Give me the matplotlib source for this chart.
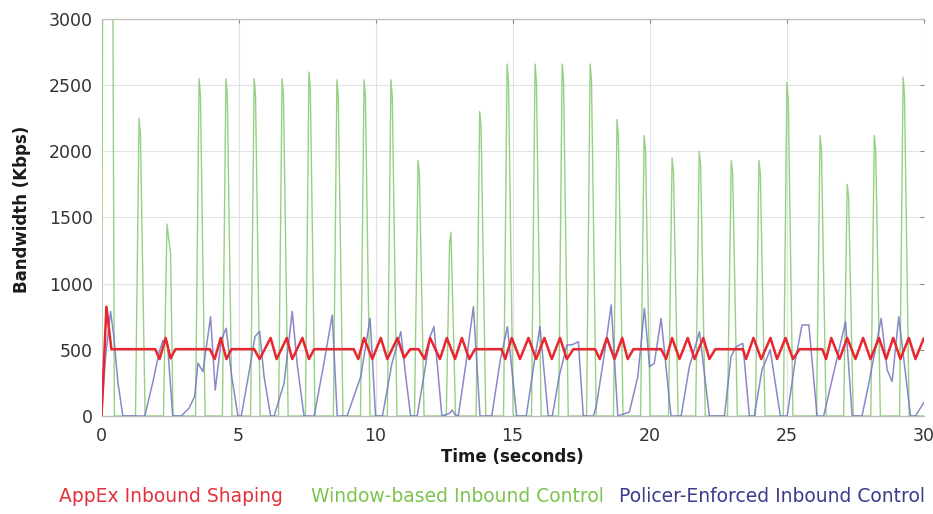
import matplotlib
matplotlib.use("Agg")
import matplotlib.pyplot as plt

# ======================
# Data (time in s, bandwidth in Kbps)
# ======================
appex_t = [0, 0.18, 0.36, 1.96, 2.12, 2.34, 2.52, 2.7, 3.95, 4.13, 4.35, 4.56, 4.74,
           5.57, 5.77, 6.17, 6.39, 6.76, 6.96, 7.33, 7.57, 7.76, 9.2, 9.37, 9.58,
           9.88, 10.19, 10.43, 10.8, 11.04, 11.27, 11.57, 11.79, 11.99, 12.35, 12.6,
           12.9, 13.15, 13.42, 13.63, 14.6, 14.73, 14.97, 15.27, 15.58, 15.86, 16.16,
           16.43, 16.73, 16.98, 17.22, 18.01, 18.18, 18.44, 18.72, 19.0, 19.2, 19.41,
           20.42, 20.6, 20.82, 21.09, 21.39, 21.64, 21.96, 22.18, 22.4, 23.4, 23.52,
           23.79, 24.07, 24.41, 24.65, 24.96, 25.23, 25.47, 26.3, 26.44, 26.63, 26.93,
           27.21, 27.51, 27.79, 28.06, 28.37, 28.63, 28.89, 29.15, 29.46, 29.7, 30.0]
appex_kbps = [0, 826, 505, 505, 430, 590, 435, 505, 505, 430, 590, 430, 505,
              505, 430, 590, 430, 590, 430, 590, 430, 505, 505, 430, 590,
              430, 590, 430, 590, 440, 505, 505, 430, 590, 430, 590,
              430, 590, 430, 505, 505, 430, 590, 430, 590, 430, 590,
              430, 590, 430, 505, 505, 430, 590, 430, 590, 430, 505,
              505, 430, 590, 430, 590, 430, 590, 430, 505, 505, 430,
              590, 430, 590, 430, 590, 430, 505, 505, 430, 590, 430,
              590, 430, 590, 430, 590, 430, 590, 430, 590, 430, 585]

window_t = [0, 0.05, 0.40, 0.47,
            1.24, 1.37, 1.42, 1.59,
            2.26, 2.39, 2.52, 2.61,
            3.43, 3.56, 3.61, 3.78,
            4.41, 4.54, 4.59, 4.76,
            5.44, 5.57, 5.62, 5.79,
            6.46, 6.59, 6.64, 6.81,
            7.44, 7.57, 7.62, 7.79,
            8.46, 8.59, 8.64, 8.81,
            9.45, 9.58, 9.63, 9.80,
            10.43, 10.56, 10.61, 10.78,
            11.42, 11.55, 11.60, 11.77,
            12.58, 12.70, 12.75, 12.92,
            13.67, 13.80, 13.85, 14.02,
            14.67, 14.80, 14.85, 15.02,
            15.69, 15.82, 15.87, 16.04,
            16.68, 16.81, 16.86, 17.03,
            17.70, 17.83, 17.88, 18.05,
            18.68, 18.81, 18.86, 19.03,
            19.67, 19.80, 19.85, 20.02,
            20.69, 20.82, 20.87, 21.04,
            21.68, 21.81, 21.86, 22.03,
            22.84, 22.98, 23.03, 23.20,
            23.86, 23.99, 24.04, 24.21,
            24.88, 25.01, 25.06, 25.23,
            26.09, 26.22, 26.27, 26.44,
            27.08, 27.21, 27.26, 27.43,
            28.07, 28.20, 28.25, 28.42,
            29.12, 29.25, 29.30, 29.47, 30.0]
window_kbps = [0, 4000, 4000, 0,
               0, 2250, 2130, 0,
               0, 1450, 1220, 0,
               0, 2550, 2420, 0,
               0, 2550, 2420, 0,
               0, 2550, 2420, 0,
               0, 2550, 2420, 0,
               0, 2600, 2470, 0,
               0, 2540, 2410, 0,
               0, 2540, 2410, 0,
               0, 2540, 2410, 0,
               0, 1930, 1830, 0,
               0, 1300, 1390, 0,
               0, 2300, 2180, 0,
               0, 2660, 2530, 0,
               0, 2660, 2530, 0,
               0, 2660, 2530, 0,
               0, 2660, 2530, 0,
               0, 2240, 2130, 0,
               0, 2120, 2010, 0,
               0, 1950, 1850, 0,
               0, 2000, 1900, 0,
               0, 1930, 1830, 0,
               0, 1930, 1830, 0,
               0, 2520, 2390, 0,
               0, 2120, 2010, 0,
               0, 1750, 1660, 0,
               0, 2120, 2010, 0,
               0, 2560, 2430, 0, 0]

policer_t = [0.0, 0.15, 0.33, 0.45, 0.6, 0.78, 1.58, 1.9, 2.1, 2.24, 2.4, 2.6, 2.91,
             3.2, 3.4, 3.52, 3.7, 3.98, 4.15, 4.37, 4.55, 4.75, 4.98, 5.1, 5.4, 5.6,
             5.77, 5.93, 6.17, 6.3, 6.66, 6.96, 7.15, 7.39, 7.76, 8.1, 8.42, 8.6, 8.96,
             9.46, 9.8, 10.0, 10.25, 10.6, 10.92, 11.1, 11.28, 11.52, 11.8, 11.99,
             12.13, 12.42, 12.7, 12.8, 12.9, 13.02, 13.3, 13.57, 13.81, 14.24, 14.55,
             14.81, 15.15, 15.5, 15.8, 16.0, 16.3, 16.45, 16.7, 16.98, 17.2, 17.4,
             17.58, 17.95, 18.05, 18.3, 18.6, 18.84, 19.26, 19.57, 19.81, 20.0, 20.17,
             20.42, 20.78, 21.15, 21.45, 21.82, 22.18, 22.73, 22.97, 23.16, 23.4,
             23.64, 23.82, 24.1, 24.4, 24.77, 25.02, 25.3, 25.56, 25.81, 26.11, 26.35,
             26.8, 27.15, 27.39, 27.75, 28.0, 28.45, 28.67, 28.85, 29.09, 29.52, 29.7,
             30.0]
policer_kbps = [0, 450, 790, 600, 250, 0, 0, 280, 480, 570, 560, 0, 0,
                60, 150, 400, 335, 750, 196, 575, 663, 300, 0, 0, 350, 600,
                640, 300, 0, 0, 247, 790, 373, 0, 0, 380, 763, 0, 0,
                297, 738, 0, 0, 400, 637, 300, 0, 0, 350, 600,
                675, 0, 20, 45, 10, 0, 400, 826, 0, 0, 420,
                675, 0, 0, 420, 675, 0, 0, 300, 535, 540, 562,
                0, 0, 70, 400, 839, 0, 30, 297, 813, 373, 398,
                738, 0, 0, 373, 637, 0, 0, 448, 524, 549,
                0, 0, 348, 500, 0, 0, 400, 688, 688, 0, 0,
                400, 713, 0, 0, 247, 738, 348, 260, 750, 0, 0,
                100]

x_ticks = [0, 5, 10, 15, 20, 25, 30]
y_ticks = [0, 500, 1000, 1500, 2000, 2500, 3000]

legend_labels = ["AppEx Inbound Shaping", "Window-based Inbound Control",
                 "Policer-Enforced Inbound Control"]
legend_colors = ["#e2323c", "#7cc44e", "#3b3b8e"]

# ======================
# Plot
# ======================
plt.rcParams.update({"font.family": "DejaVu Sans"})

fig = plt.figure(figsize=(9.33, 5.14), dpi=100)
ax = fig.add_axes([0.1088, 0.1907, 0.8812, 0.7723])

ax.plot(window_t, window_kbps, color="#96d183", linewidth=1.0, zorder=2)
ax.plot(policer_t, policer_kbps, color="#7474c0", linewidth=1.1, alpha=0.85, zorder=3)
ax.plot(appex_t, appex_kbps, color="#e8262e", linewidth=1.8, zorder=4)

ax.set_xlim(0, 30)
ax.set_ylim(0, 3000)
ax.set_xticks(x_ticks)
ax.set_yticks(y_ticks)
ax.grid(True, color="#e2e2e2", linewidth=0.8)
ax.set_axisbelow(True)

for side in ["left", "right"]:
    ax.spines[side].set_visible(False)
for side in ["top", "bottom"]:
    ax.spines[side].set_color("#bdbdbd")
    ax.spines[side].set_linewidth(0.9)

ax.tick_params(axis="both", labelsize=12.5, labelcolor="#333333", length=0)
ax.tick_params(axis="x", pad=8)
ax.tick_params(axis="y", pad=6)
# small inward marks on top and right like the original
ax.tick_params(top=True, right=True, direction="in", length=3, color="#888888",
               labeltop=False, labelright=False, bottom=False, left=False)

ax.set_xlabel("Time (seconds)", fontsize=12, fontweight="bold", color="#1a1a1a")
ax.set_ylabel("Bandwidth (Kbps)", fontsize=12, fontweight="bold", color="#1a1a1a")
ax.xaxis.set_label_coords(0.5, -0.08)
ax.yaxis.set_label_coords(-0.086, 0.52)

# colored legend text under the chart
legend_cx = [171, 457, 772]
for cx, lab, col in zip(legend_cx, legend_labels, legend_colors):
    fig.text(cx / 933, (514 - 497) / 514, lab, color=col, fontsize=13.5,
             va="center", ha="center")

fig.savefig("out.png", dpi=100)
